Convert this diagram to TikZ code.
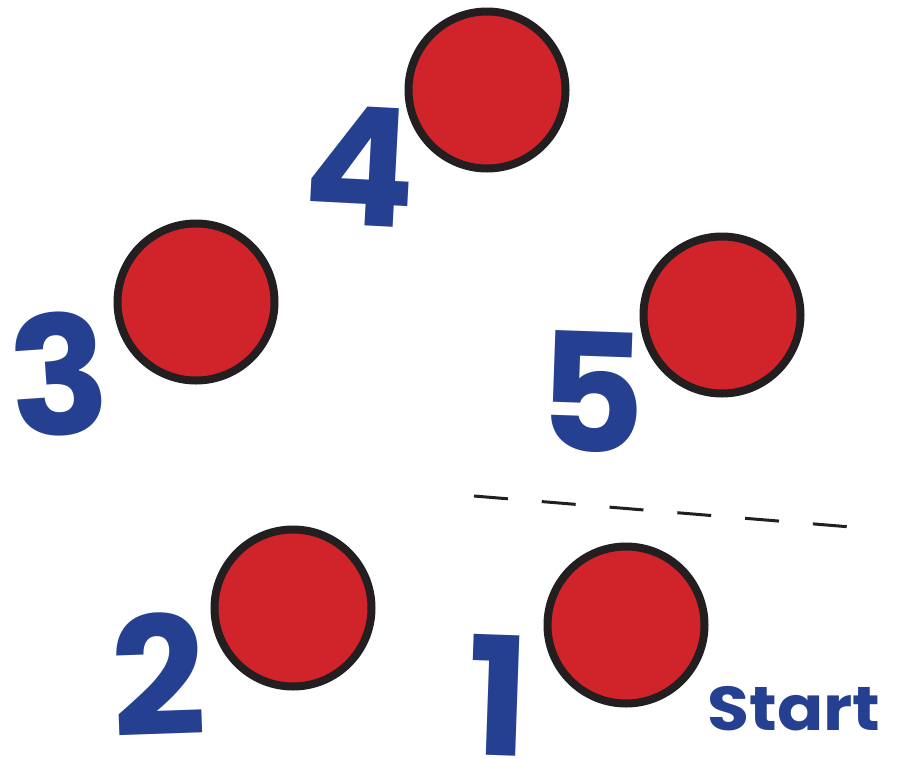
\documentclass[tikz,border=0pt]{standalone}
\usepackage{fontspec}
\setmainfont{Poppins}
\usepackage{pdfrender}
\usetikzlibrary{positioning}
\definecolor{dotred}{RGB}{209,35,42}
\definecolor{numblue}{RGB}{38,64,145}
\definecolor{rimdark}{RGB}{35,31,32}
\tikzstyle{dot} = [circle, draw=rimdark, fill=dotred, line width=8pt,
    minimum size=157pt, inner sep=0pt]
\tikzstyle{num} = [inner sep=0pt, text=numblue,
    font=\fontsize{165}{165}\selectfont\bfseries]
\tikzstyle{lineup} = [draw=rimdark, line width=3pt, dash pattern=on 34pt off 34pt]
\newcommand{\outl}[1]{\textpdfrender{TextRenderingMode=FillStroke,
    LineWidth=1.5pt, StrokeColor=rimdark}{#1}}

\begin{document}
\begin{tikzpicture}[x=1pt, y=-1pt]
  \useasboundingbox (0,0) rectangle (897,758);
  % spots
  \node (spot4) [dot] at (487,90)  {};
  \node (spot3) [dot] at (196,302) {};
  \node (spot5) [dot] at (722,315) {};
  \node (spot2) [dot] at (293,608) {};
  \node (spot1) [dot] at (626,625) {};
  % numbers
  \node (num4) [num, rotate=-3] at (360,166) {\outl{4}};
  \node (num3) [num, rotate=4]  at (59,374)  {\outl{3}};
  \node (num5) [num, rotate=-2] at (592,392) {\outl{5}};
  \node (num2) [num, rotate=2]  at (158,674) {\outl{2}};
  \node (num1) [num, rotate=-2] at (499,695) {\outl{1}};
  \node (start) [inner sep=0pt, text=numblue, xscale=1.1,
      font=\fontsize{62}{62}\selectfont\bfseries] at (794,709) {\outl{Start}};
  % start line
  \coordinate (line1) at (474,496);
  \coordinate (line2) at (851,527);
  \draw[lineup] (line1) -- (line2);
\end{tikzpicture}
\end{document}
